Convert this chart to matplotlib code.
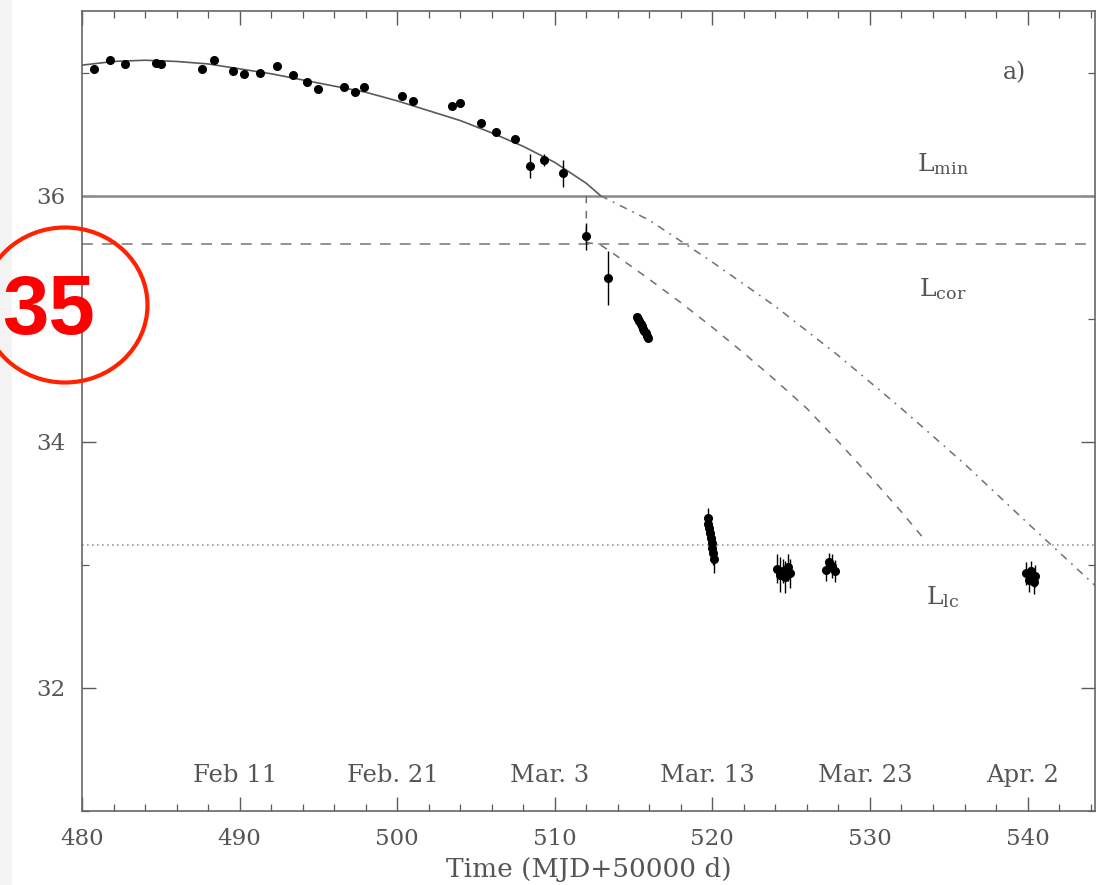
import matplotlib
matplotlib.use("Agg")
import matplotlib.pyplot as plt
from matplotlib.patches import Ellipse, Rectangle
from matplotlib.ticker import MultipleLocator

plt.rcParams['font.family'] = 'DejaVu Serif'
plt.rcParams['mathtext.fontset'] = 'dejavuserif'

# Early monitoring points (small errors)
t_early = [480.76, 481.8, 482.7, 484.7, 485.0, 487.6, 488.4, 489.6, 490.3, 491.3,
           492.4, 493.4, 494.3, 495.0, 496.6, 497.3, 497.9, 500.3, 501.0, 503.5,
           504.0, 505.3, 506.3, 507.5]
L_early = [37.03, 37.10, 37.07, 37.08, 37.07, 37.03, 37.10, 37.01, 36.99, 37.00,
           37.05, 36.98, 36.92, 36.87, 36.88, 36.84, 36.88, 36.81, 36.77, 36.73,
           36.75, 36.59, 36.52, 36.46]

# Points with visible error bars around the drop
t_err = [508.4, 509.3, 510.5, 512.0, 513.4]
L_err = [36.24, 36.29, 36.18, 35.67, 35.33]
e_err = [0.10, 0.05, 0.11, 0.11, 0.22]

# Dense groups of late observations
t_grp = [515.20, 515.28, 515.36, 515.44, 515.52, 515.60, 515.68, 515.76, 515.84, 515.90,
         519.70, 519.75, 519.80, 519.85, 519.90, 519.95, 520.00, 520.05, 520.10,
         524.1, 524.3, 524.5, 524.6, 524.8, 524.9,
         527.2, 527.4, 527.6, 527.8,
         539.9, 540.1, 540.2, 540.4, 540.5]
L_grp = [35.01, 35.00, 34.98, 34.96, 34.94, 34.92, 34.90, 34.88, 34.86, 34.84,
         33.38, 33.33, 33.30, 33.26, 33.22, 33.18, 33.14, 33.10, 33.05,
         32.97, 32.92, 32.95, 32.90, 32.98, 32.93,
         32.96, 33.02, 32.99, 32.95,
         32.93, 32.88, 32.95, 32.86, 32.91]
e_grp = [0.02] * 10 + [0.08, 0.07, 0.06, 0.08, 0.09, 0.10, 0.09, 0.10, 0.12] \
        + [0.12, 0.14, 0.10, 0.13, 0.11, 0.12] + [0.09, 0.08, 0.10, 0.09] \
        + [0.09, 0.10, 0.08, 0.10, 0.09]

# Model curve: fitted part and its extrapolation
t_fit = [480, 482, 484, 486, 488, 490, 492, 494, 496, 498, 500, 502, 504, 506,
         508, 510, 512, 512.9]
L_fit = [37.06, 37.09, 37.10, 37.09, 37.07, 37.03, 36.99, 36.94, 36.89, 36.84,
         36.77, 36.69, 36.61, 36.51, 36.40, 36.27, 36.10, 36.00]
t_ext = [512.9, 516, 520, 524, 528, 532, 536, 540, 544.3]
L_ext = [36.00, 35.80, 35.46, 35.10, 34.70, 34.27, 33.82, 33.34, 32.83]

# Restarted decline after the drop below L_min
t_cor = [512.0, 512.0, 512.9, 513.6, 516, 518, 520, 522, 524, 526, 528, 530, 532, 533.5]
L_cor = [36.00, 35.62, 35.60, 35.54, 35.32, 35.13, 34.93, 34.72, 34.50, 34.27,
         34.00, 33.72, 33.43, 33.20]

# Reference levels
L_min, L_corot, L_lc = 36.0, 35.61, 33.165

date_pos = [490, 500, 510, 520, 530, 540]
date_labels = ['Feb 11', 'Feb. 21', 'Mar. 3', 'Mar. 13', 'Mar. 23', 'Apr. 2']

fig = plt.figure(figsize=(10.97, 8.85), dpi=100)
fig.add_artist(Rectangle((0, 0), 12 / 1097, 1, transform=fig.transFigure,
                         facecolor='#f3f3f3', edgecolor='none', zorder=0))
ax = fig.add_axes([82 / 1097, 74 / 885, 1013 / 1097, 800 / 885])

grey = '#5a5a5a'
ax.axhline(L_min, color='#8a8a8a', lw=1.8)
ax.axhline(L_corot, color='#8a8a8a', lw=1.3, ls=(0, (6, 5)))
ax.axhline(L_lc, color='#9a9a9a', lw=1.2, ls=(0, (1, 2)))

ax.plot(t_fit, L_fit, color=grey, lw=1.2)
ax.plot(t_ext, L_ext, color='#707070', lw=1.1, ls=(0, (5, 4, 1.2, 4)))
ax.plot(t_cor, L_cor, color='#707070', lw=1.1, ls=(0, (5, 5)))

ax.plot(t_early, L_early, 'o', color='black', ms=5.5)
ax.errorbar(t_err, L_err, yerr=e_err, fmt='o', color='black', ms=5.5,
            elinewidth=1.0, capsize=0)
ax.errorbar(t_grp, L_grp, yerr=e_grp, fmt='o', color='black', ms=5.5,
            elinewidth=1.0, capsize=0)

ax.set_xlim(480, 544.28)
ax.set_ylim(31, 37.5)
ax.xaxis.set_major_locator(MultipleLocator(10))
ax.xaxis.set_minor_locator(MultipleLocator(2))
ax.yaxis.set_major_locator(MultipleLocator(2))
ax.yaxis.set_minor_locator(MultipleLocator(1))
ax.tick_params(which='both', direction='in', top=True, right=True,
               color=grey, labelcolor='#555555', labelsize=16.5)
ax.tick_params(which='major', length=10, width=1.0, pad=12)
ax.tick_params(which='minor', length=5, width=0.9)
for s in ax.spines.values():
    s.set_color('#666666')
    s.set_linewidth(1.2)

ax.set_xlabel('Time (MJD+50000 d)', fontsize=19, color='#555555', labelpad=5)

for x, lab in zip(date_pos, date_labels):
    ax.text(x - 0.3, 31.29, lab, ha='center', va='center', fontsize=17.5, color='#555555')

ax.text(539.2, 37.0, 'a)', ha='center', va='center', fontsize=17, color='#555555')
ax.text(534.6, 36.26, r'$\mathrm{L_{min}}$', ha='center', va='center', fontsize=18, color='#555555')
ax.text(534.6, 35.24, r'$\mathrm{L_{cor}}$', ha='center', va='center', fontsize=18, color='#555555')
ax.text(534.6, 32.74, r'$\mathrm{L_{lc}}$', ha='center', va='center', fontsize=18, color='#555555')

# Red marker label on the left edge
fig.add_artist(Ellipse((65 / 1097, 1 - 305 / 885), 165 / 1097, 155 / 885,
                       transform=fig.transFigure, facecolor='none',
                       edgecolor='#ff2200', lw=3, zorder=10))
fig.text(49 / 1097, 1 - 312 / 885, '35', ha='center', va='center', fontsize=60,
         fontweight='bold', color='#ff0000', family='Liberation Sans', zorder=11)

fig.savefig('out.png', dpi=100)
